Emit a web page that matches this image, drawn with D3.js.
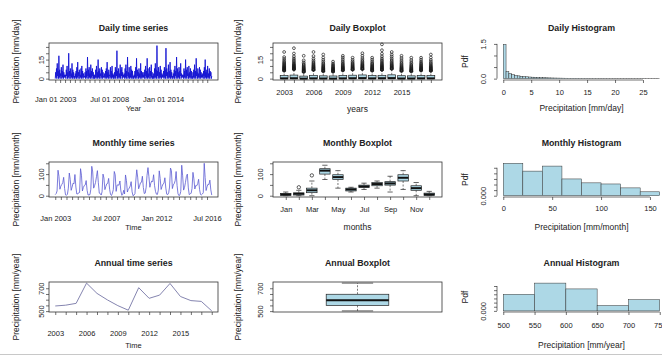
<!DOCTYPE html>
<html>
<head>
<meta charset="utf-8">
<script src="https://cdn.jsdelivr.net/npm/d3@7"></script>
<style>
  body { margin: 0; background: #fff; }
  text { font-family: "Liberation Sans", Arial, sans-serif; fill: #222; }
</style>
</head>
<body>
<svg id="chart" width="662" height="356"></svg>
<script>
// ---- data ----
const years = d3.range(2003, 2019);
const yearLabels = [2003, 2006, 2009, 2012, 2015];
const monthNames = ["Jan", "Feb", "Mar", "Apr", "May", "Jun", "Jul", "Aug", "Sep", "Oct", "Nov", "Dec"];

// daily series, sampled twice a month (mm/day)
const dailyValues = [
  [0,5,1,8,0,12,2,6,0,18,1,7,0,4,2,9,0,6,1,11,0,5,1,3],
  [1,3,0,7,2,10,0,5,1,20,0,6,2,8,0,4,1,12,0,7,1,5,0,2],
  [0,4,1,6,0,9,1,13,0,5,2,7,0,3,1,8,0,10,1,6,0,4,1,2],
  [1,5,0,8,1,6,0,17,2,7,0,9,1,4,0,11,1,6,0,8,2,5,0,3],
  [0,3,1,7,0,10,1,5,0,15,1,6,0,8,2,4,0,9,1,7,0,5,1,2],
  [1,4,0,6,1,8,0,13,1,5,0,7,2,3,0,9,1,6,0,10,1,4,0,3],
  [0,5,1,9,0,7,2,22,0,6,1,8,0,4,1,11,0,7,2,9,0,5,1,3],
  [1,4,0,8,1,11,0,6,2,17,0,5,1,9,0,4,1,10,0,7,1,6,0,2],
  [0,3,1,6,0,9,1,16,0,7,2,5,0,8,1,4,0,12,1,6,0,5,1,3],
  [1,5,0,7,2,10,0,6,1,16,0,8,1,4,0,9,2,6,0,11,1,5,0,2],
  [0,4,1,8,0,12,1,7,0,26,2,6,0,9,1,5,0,10,1,7,0,4,1,3],
  [1,6,0,9,1,7,0,24,2,8,0,5,1,11,0,6,1,13,0,7,1,5,0,2],
  [0,4,1,7,0,10,2,6,0,17,1,8,0,5,1,9,0,6,2,12,0,4,1,3],
  [1,3,0,8,1,6,0,15,1,7,0,9,2,4,0,10,1,5,0,8,1,6,0,2],
  [0,5,1,7,0,11,1,6,0,16,2,5,0,8,1,4,0,9,1,7,0,5,1,3],
  [1,4,0,6,2,9,0,15,1,5,0,7,1,10,0,4,1,8,0,6,2,5,0,2]
];

// daily boxplot per year
const dailyBoxMed = [0.2,0.3,0,0.2,0.1,0,0.2,0.3,0.4,0.2,0.3,0.4,0.1,0.1,0.2,0.2];
const dailyBoxQ3 = [2.4,2.8,2.0,2.6,2.2,2.1,2.5,2.7,2.9,2.4,2.6,3.0,2.3,2.2,2.5,2.4];
const dailyBoxHi = [6.0,7.0,5.0,6.5,5.5,5.2,6.2,6.8,7.2,6.0,6.5,7.5,5.8,5.5,6.2,6.0];
const dailyOutliers = [
  [6.2,6.5,6.8,7.1,7.4,7.8,8.1,8.5,8.9,9.3,9.8,10.3,10.9,11.6,12.3,13.2,14.2,15.5,17,21],
  [7.2,7.5,7.8,8.1,8.5,8.9,9.3,9.7,10.2,10.7,11.3,12,12.8,13.7,14.8,16,17.6,19.8,24],
  [5.2,5.5,5.8,6.1,6.4,6.8,7.2,7.6,8.1,8.6,9.2,9.9,10.7,11.6,12.8,14.4,18],
  [6.7,7,7.3,7.6,8,8.4,8.8,9.2,9.7,10.2,10.8,11.5,12.3,13.2,14.4,15.8,17.8,21],
  [5.7,6,6.3,6.6,7,7.4,7.8,8.2,8.7,9.2,9.8,10.5,11.3,12.2,13.4,14.8,16.6,19],
  [5.4,5.7,6,6.3,6.6,7,7.4,7.8,8.3,8.8,9.4,10.1,10.9,11.9,13.4],
  [6.4,6.7,7,7.4,7.8,8.2,8.6,9.1,9.6,10.2,10.9,11.7,12.6,13.8,15.2,16.6,18],
  [7,7.3,7.6,8,8.4,8.8,9.3,9.8,10.4,11,11.7,12.5,13.5,14.8,16.5],
  [7.4,7.7,8,8.4,8.8,9.2,9.7,10.2,10.7,11.3,12,12.8,13.7,14.8,16.2,18,20],
  [6.2,6.5,6.8,7.2,7.6,8,8.4,8.9,9.4,10,10.7,11.5,12.4,13.6,15,16.5],
  [6.8,7.1,7.4,7.8,8.2,8.6,9,9.5,10,10.6,11.2,11.9,12.7,13.6,14.7,16,17.6,19.6,22.4,27],
  [7.6,7.9,8.3,8.7,9.1,9.6,10.1,10.6,11.2,11.9,12.7,13.6,14.7,16,17.5,19,21],
  [5.9,6.2,6.5,6.9,7.3,7.7,8.1,8.6,9.1,9.7,10.4,11.2,12.1,13.2,14.6,16.2,18],
  [5.6,5.9,6.2,6.5,6.9,7.3,7.7,8.2,8.7,9.3,10,10.8,11.8,13,14.6,16.5],
  [6.3,6.6,6.9,7.3,7.7,8.1,8.5,9,9.5,10.1,10.8,11.6,12.5,13.6,15,16.5],
  [6,6.3,6.6,7,7.4,7.8,8.2,8.7,9.2,9.8,10.5,11.3,12.2,13.3,14.7,16.6,19]
];

// daily histogram (density, bins of 0.5 mm from 0 to 28)
const dailyHistDensity = [
  1.48,0.30,0.22,0.17,0.14,0.12,0.10,0.09,0.08,0.07,
  0.062,0.055,0.05,0.045,0.04,0.036,0.032,0.029,0.026,0.023,
  0.021,0.019,0.017,0.015,0.013,0.012,0.011,0.010,0.009,0.008,
  0.007,0.0065,0.006,0.0055,0.005,0.0045,0.004,0.0035,0.003,0.003,
  0.0025,0.0025,0.002,0.002,0.0015,0.0015,0.001,0.001,0.001,0.0008,
  0.0006,0.0006,0.0004,0.0004,0.0003,0.0003
];

// monthly totals 2003-2016 (mm/month)
const monthlyValues = [
  [5,10,22,118,90,30,44,52,60,85,33,4],
  [2,7,35,105,75,25,40,58,55,98,40,8],
  [8,14,15,125,95,22,38,47,50,70,25,3],
  [4,5,30,136,110,35,46,61,88,116,60,12],
  [10,3,18,100,82,28,42,55,57,80,30,6],
  [1,12,28,112,97,20,49,50,49,68,22,2],
  [6,25,8,96,70,17,30,35,45,65,18,0],
  [3,9,68,120,86,32,45,60,62,90,38,10],
  [12,39,94,130,88,39,58,68,65,97,46,20],
  [7,6,26,115,80,29,43,54,58,83,35,7],
  [5,13,40,128,116,33,50,56,70,112,48,9],
  [0,4,20,141,92,26,38,62,90,100,36,5],
  [9,11,33,108,78,31,47,46,55,76,29,6],
  [4,8,14,150,84,24,41,53,52,72,27,3]
];

// monthly boxplot statistics
const monthBoxLo = [0,0,0,75,35,17,29,35,17,29,0,0];
const monthBoxQ1 = [1,3,14,100,75,22,38,46,49,68,25,1];
const monthBoxMed = [6,9,25,116,86,29,43,54,57,83,35,6];
const monthBoxQ3 = [10,13,35,125,97,35,49,61,65,97,46,12];
const monthBoxHi = [17,25,68,141,116,39,58,68,90,116,61,20];
const monthOutliers = [[],[39],[94],[],[],[],[],[],[],[],[],[]];

// monthly histogram (density, bins of 20 mm)
const monthlyHistDensity = [0.0116,0.0088,0.0106,0.0060,0.0046,0.0042,0.0028,0.0014];

// annual totals (mm/year)
const annualValues = [545,552,568,745,655,598,548,508,705,612,640,742,628,592,585,502];

// annual histogram (density, bins of 50 mm from 500)
const annualHistDensity = [0.0040,0.0067,0.0053,0.0013,0.0027];

// ---- layout ----
const cols = [{x0: 49, x1: 218, ylab: 16, off: 7.5},
              {x0: 273, x1: 442, ylab: 238, off: 13},
              {x0: 497, x1: 666, ylab: 465, off: 14}];
const rows = [{y0: 43, y1: 80, title: 28, tsLab: 99, lab: 92, tsTitle: 108, xTitle: 109},
              {y0: 162, y1: 197, title: 143, tsLab: 218, lab: 209, tsTitle: 227, xTitle: 227},
              {y0: 282, y1: 312, title: 263, tsLab: 333, lab: 325, tsTitle: 345, xTitle: 345}];
const lightblue = "#add8e6";

const pad = ([a, b]) => [a - 0.04 * (b - a), b + 0.04 * (b - a)];
const cx = c => (c.x0 + c.x1) / 2;

const svg = d3.select("#chart");

function title(c, r, s) {
  svg.append("text").attr("x", cx(c)).attr("y", r.title).attr("dy", "0.35em")
    .attr("text-anchor", "middle").style("font-size", "8.8px").style("font-weight", "bold").text(s);
}
function xTitle(c, y, s, size) {
  svg.append("text").attr("x", cx(c)).attr("y", y).attr("dy", "0.35em")
    .attr("text-anchor", "middle").style("font-size", size + "px").text(s);
}
function yTitle(c, r, s) {
  svg.append("text").attr("transform", `translate(${c.ylab},${(r.y0 + r.y1) / 2}) rotate(-90)`)
    .attr("dy", "0.35em").attr("text-anchor", "middle").style("font-size", "8.5px").text(s);
}
function frame(c, r) {
  svg.append("rect").attr("x", c.x0).attr("y", r.y0).attr("width", c.x1 - c.x0).attr("height", r.y1 - r.y0)
    .attr("fill", "none").attr("stroke", "#333").attr("stroke-width", 0.8);
}
function yAxis(scale, x, ticks, fmt, off, withLine) {
  const g = svg.append("g").attr("transform", `translate(${x},0)`)
    .call(d3.axisLeft(scale).tickValues(ticks).tickSize(3).tickFormat(fmt));
  g.select(".domain").remove();
  g.selectAll(".tick line").attr("stroke", "#333").attr("stroke-width", 0.7);
  g.selectAll(".tick text").attr("x", null).attr("dy", "0.35em").attr("text-anchor", "middle")
    .attr("transform", `translate(${-off},0) rotate(-90)`).style("font-size", "7.5px");
  if (withLine) {
    g.append("line").attr("y1", scale(ticks[0])).attr("y2", scale(ticks[ticks.length - 1]))
      .attr("stroke", "#333").attr("stroke-width", 0.7);
  }
}
function xAxis(scale, y, ticks, fmt, labelY, withLine) {
  const g = svg.append("g").attr("transform", `translate(0,${y})`)
    .call(d3.axisBottom(scale).tickValues(ticks).tickSize(3).tickFormat(fmt));
  g.select(".domain").remove();
  g.selectAll(".tick line").attr("stroke", "#333").attr("stroke-width", 0.7);
  g.selectAll(".tick text").attr("y", labelY - y).attr("dy", "0.35em").style("font-size", "7.5px");
  if (withLine) {
    g.append("line").attr("x1", scale(ticks[0])).attr("x2", scale(ticks[ticks.length - 1]))
      .attr("stroke", "#333").attr("stroke-width", 0.7);
  }
}
function boxplot(x, y, pos, s, boxw, r) {
  const g = svg.append("g");
  const h = boxw / 2;
  const px = x(pos);
  g.append("line").attr("x1", px).attr("x2", px).attr("y1", y(s.q3)).attr("y2", y(s.hi))
    .attr("stroke", "#222").attr("stroke-width", 0.6).attr("stroke-dasharray", "2,1.5");
  g.append("line").attr("x1", px).attr("x2", px).attr("y1", y(s.q1)).attr("y2", y(s.lo))
    .attr("stroke", "#222").attr("stroke-width", 0.6).attr("stroke-dasharray", "2,1.5");
  [s.lo, s.hi].forEach(v => g.append("line").attr("x1", px - h / 2).attr("x2", px + h / 2)
    .attr("y1", y(v)).attr("y2", y(v)).attr("stroke", "#222").attr("stroke-width", 0.7));
  g.append("rect").attr("x", px - h).attr("width", boxw).attr("y", y(s.q3))
    .attr("height", Math.max(0.5, y(s.q1) - y(s.q3)))
    .attr("fill", lightblue).attr("stroke", "#222").attr("stroke-width", 0.7);
  g.append("line").attr("x1", px - h).attr("x2", px + h).attr("y1", y(s.med)).attr("y2", y(s.med))
    .attr("stroke", "#111").attr("stroke-width", 2);
  g.selectAll("circle").data(s.out).enter().append("circle")
    .attr("cx", px).attr("cy", d => y(d)).attr("r", r || 1.7)
    .attr("fill", "none").attr("stroke", "#1a1a1a").attr("stroke-width", 0.7);
}
function histogram(x, y, breaks, dens) {
  svg.append("g").selectAll("rect").data(dens).enter().append("rect")
    .attr("x", (d, i) => x(breaks[i])).attr("width", (d, i) => x(breaks[i + 1]) - x(breaks[i]))
    .attr("y", d => y(d)).attr("height", d => y(0) - y(d))
    .attr("fill", lightblue).attr("stroke", "#333").attr("stroke-width", 0.5);
}

// ---- row 1: daily ----
{
  const r = rows[0];
  const yDaily = d3.scaleLinear().domain(pad([0, 27])).range([r.y1, r.y0]);
  const yTicks = [0, 5, 10, 15, 20, 25];
  const yFmt = d => (d === 0 || d === 15) ? d : "";

  // time series
  const c = cols[0];
  const pts = [];
  years.forEach((yr, yi) => dailyValues[yi].forEach((v, i) =>
    pts.push({date: new Date(yr, Math.floor(i / 2), i % 2 ? 16 : 1), v})));
  const t0 = pts[0].date.getTime(), t1 = pts[pts.length - 1].date.getTime();
  const x = d3.scaleTime().domain(pad([t0, t1]).map(t => new Date(t))).range([c.x0, c.x1]);
  svg.append("path").datum(pts)
    .attr("d", d3.line().x(d => x(d.date)).y(d => yDaily(d.v)))
    .attr("fill", "none").attr("stroke", "#1414d2").attr("stroke-width", 0.9);
  frame(c, r);
  const shown = ["2003-0", "2008-6", "2014-0"];
  const fmt = d3.timeFormat("%b %d %Y");
  xAxis(x, r.y1, d3.timeMonth.every(6).range(new Date(2003, 0, 1), new Date(2019, 0, 1)),
    d => shown.includes(d.getFullYear() + "-" + d.getMonth()) ? fmt(d) : "", r.tsLab);
  yAxis(yDaily, c.x0, yTicks, yFmt, c.off);
  title(c, r, "Daily time series");
  xTitle(c, r.tsTitle, "Year", 7.5);
  yTitle(c, r, "Precipitation [mm/day]");

  // boxplot by year
  const c2 = cols[1];
  const xb = d3.scaleLinear().domain(pad([0.5, years.length + 0.5])).range([c2.x0, c2.x1]);
  const unit = xb(1) - xb(0);
  years.forEach((yr, i) => boxplot(xb, yDaily, i + 1,
    {lo: 0, q1: 0, med: dailyBoxMed[i], q3: dailyBoxQ3[i], hi: dailyBoxHi[i], out: dailyOutliers[i]},
    unit * 0.8, 1.4));
  frame(c2, r);
  xAxis(xb, r.y1, years.map((d, i) => i + 1), i => yearLabels.includes(years[i - 1]) ? years[i - 1] : "", r.lab);
  yAxis(yDaily, c2.x0, yTicks, yFmt, c2.off);
  title(c2, r, "Daily Boxplot");
  xTitle(c2, r.xTitle, "years", 8.5);
  yTitle(c2, r, "Precipitation [mm/day]");

  // histogram
  const c3 = cols[2];
  const breaks = d3.range(0, 28.01, 0.5);
  const xh = d3.scaleLinear().domain(pad([0, 28])).range([c3.x0, c3.x1]);
  const yh = d3.scaleLinear().domain(pad([0, d3.max(dailyHistDensity)])).range([r.y1, r.y0]);
  histogram(xh, yh, breaks, dailyHistDensity);
  xAxis(xh, r.y1, [0, 5, 10, 15, 20, 25], d => d, r.lab, true);
  yAxis(yh, c3.x0, [0, 0.5, 1, 1.5], d => (d === 0 || d === 1.5) ? d.toFixed(1) : "", c3.off, true);
  title(c3, r, "Daily Histogram");
  xTitle(c3, r.xTitle - 1, "Precipitation [mm/day]", 8.5);
  yTitle(c3, r, "Pdf");
}

// ---- row 2: monthly ----
{
  const r = rows[1];
  const yM = d3.scaleLinear().domain(pad([0, 150])).range([r.y1, r.y0]);
  const yTicks = [0, 50, 100, 150];
  const yFmt = d => (d === 0 || d === 100) ? d : "";

  const c = cols[0];
  const pts = [];
  monthlyValues.forEach((row, yi) => row.forEach((v, m) => pts.push({date: new Date(2003 + yi, m, 1), v})));
  const t0 = pts[0].date.getTime(), t1 = pts[pts.length - 1].date.getTime();
  const x = d3.scaleTime().domain(pad([t0, t1]).map(t => new Date(t))).range([c.x0, c.x1]);
  svg.append("path").datum(pts)
    .attr("d", d3.line().x(d => x(d.date)).y(d => yM(d.v)))
    .attr("fill", "none").attr("stroke", "#5a5ad2").attr("stroke-width", 0.8);
  frame(c, r);
  const shown = ["2003-0", "2007-6", "2012-0", "2016-6"];
  const fmt = d3.timeFormat("%b %Y");
  xAxis(x, r.y1, d3.timeMonth.every(6).range(new Date(2003, 0, 1), new Date(2017, 0, 1)),
    d => shown.includes(d.getFullYear() + "-" + d.getMonth()) ? fmt(d) : "", r.tsLab);
  yAxis(yM, c.x0, yTicks, yFmt, c.off);
  title(c, r, "Monthly time series");
  xTitle(c, r.tsTitle, "Time", 7.5);
  yTitle(c, r, "Precipitation [mm/month]");

  const c2 = cols[1];
  const xb = d3.scaleLinear().domain(pad([0.5, 12.5])).range([c2.x0, c2.x1]);
  const unit = xb(1) - xb(0);
  monthNames.forEach((m, i) => boxplot(xb, yM, i + 1,
    {lo: monthBoxLo[i], q1: monthBoxQ1[i], med: monthBoxMed[i], q3: monthBoxQ3[i], hi: monthBoxHi[i], out: monthOutliers[i]},
    unit * 0.8));
  frame(c2, r);
  xAxis(xb, r.y1, d3.range(1, 13), i => i % 2 === 1 ? monthNames[i - 1] : "", r.lab);
  yAxis(yM, c2.x0, yTicks, yFmt, c2.off);
  title(c2, r, "Monthly Boxplot");
  xTitle(c2, r.xTitle, "months", 8.5);
  yTitle(c2, r, "Precipitation [mm/month]");

  const c3 = cols[2];
  const breaks = d3.range(0, 161, 20);
  const xh = d3.scaleLinear().domain(pad([0, 160])).range([c3.x0, c3.x1]);
  const yh = d3.scaleLinear().domain(pad([0, d3.max(monthlyHistDensity)])).range([r.y1, r.y0]);
  histogram(xh, yh, breaks, monthlyHistDensity);
  xAxis(xh, r.y1, [0, 50, 100, 150], d => d, r.lab - 1, true);
  yAxis(yh, c3.x0, [0, 0.002, 0.004, 0.006, 0.008, 0.010], d => d === 0 ? "0.000" : "", c3.off, true);
  title(c3, r, "Monthly Histogram");
  xTitle(c3, r.xTitle, "Precipitation [mm/month]", 8.5);
  yTitle(c3, r, "Pdf");
}

// ---- row 3: annual ----
{
  const r = rows[2];
  const yA = d3.scaleLinear().domain(pad(d3.extent(annualValues))).range([r.y1, r.y0]);
  const yTicks = [500, 550, 600, 650, 700];
  const yFmt = d => (d === 500 || d === 700) ? d : "";

  const c = cols[0];
  const x = d3.scaleLinear().domain(pad([years[0], years[years.length - 1]])).range([c.x0, c.x1]);
  svg.append("path").datum(annualValues)
    .attr("d", d3.line().x((d, i) => x(years[i])).y(d => yA(d)))
    .attr("fill", "none").attr("stroke", "#8585b0").attr("stroke-width", 1);
  frame(c, r);
  xAxis(x, r.y1, years, d => yearLabels.includes(d) ? d : "", r.tsLab);
  yAxis(yA, c.x0, yTicks, yFmt, c.off);
  title(c, r, "Annual time series");
  xTitle(c, r.tsTitle, "Time", 7.5);
  yTitle(c, r, "Precipitation [mm/year]");

  // boxplot from the annual values (Tukey hinges)
  const c2 = cols[1];
  const sorted = annualValues.slice().sort(d3.ascending);
  const half = Math.floor(sorted.length / 2);
  const stats = {
    lo: sorted[0], hi: sorted[sorted.length - 1],
    med: d3.median(sorted),
    q1: d3.median(sorted.slice(0, half + (sorted.length % 2))),
    q3: d3.median(sorted.slice(half)),
    out: []
  };
  const xb = d3.scaleLinear().domain(pad([0.5, 1.5])).range([c2.x0, c2.x1]);
  boxplot(xb, yA, 1, stats, (xb(1) - xb(0)) * 0.4);
  frame(c2, r);
  yAxis(yA, c2.x0, yTicks, yFmt, c2.off);
  title(c2, r, "Annual Boxplot");
  yTitle(c2, r, "Precipitation [mm/year]");

  const c3 = cols[2];
  const breaks = d3.range(500, 751, 50);
  const xh = d3.scaleLinear().domain(pad([500, 750])).range([c3.x0, c3.x1]);
  const yh = d3.scaleLinear().domain(pad([0, d3.max(annualHistDensity)])).range([r.y1, r.y0]);
  histogram(xh, yh, breaks, annualHistDensity);
  xAxis(xh, r.y1, breaks, d => d, r.lab, true);
  yAxis(yh, c3.x0, [0, 0.001, 0.002, 0.003, 0.004, 0.005, 0.006], d => d === 0 ? "0.000" : "", c3.off, true);
  title(c3, r, "Annual Histogram");
  xTitle(c3, r.xTitle, "Precipitation [mm/year]", 8.5);
  yTitle(c3, r, "Pdf");
}

// thin border line along the bottom
svg.append("line").attr("x1", 0).attr("x2", 662).attr("y1", 354.5).attr("y2", 354.5)
  .attr("stroke", "#c8c8c8").attr("stroke-width", 1);
</script>
</body>
</html>
